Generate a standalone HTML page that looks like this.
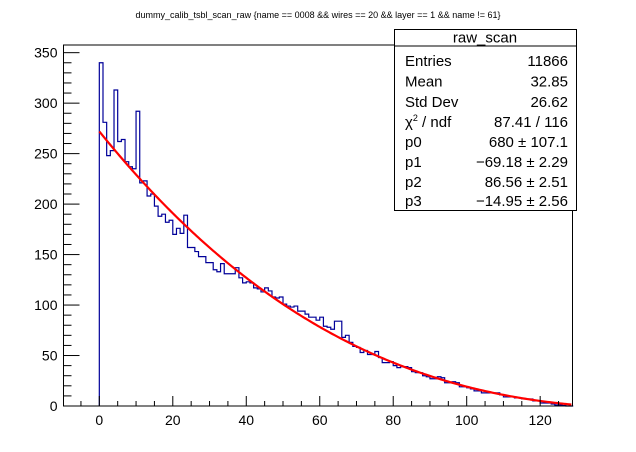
<!DOCTYPE html>
<html><head><meta charset="utf-8"><style>
body{margin:0;background:#fff;}
svg{display:block;font-family:"Liberation Sans",sans-serif;}
</style></head><body>
<svg id="c" width="636" height="452" viewBox="0 0 636 452">
<rect width="636" height="452" fill="#fff"/>
<text x="318" y="18" font-size="9" text-anchor="middle">dummy_calib_tsbl_scan_raw {name == 0008 &amp;&amp; wires == 20 &amp;&amp; layer == 1 &amp;&amp; name != 61}</text>
<g id="plot"></g>
<g id="axes"></g>
<g>
<rect x="394.5" y="29.5" width="182" height="181" fill="#fff" stroke="#000" stroke-width="1"/>
<line x1="394.5" y1="46" x2="576.5" y2="46" stroke="#000"/>
<text x="485" y="42.5" font-size="15" text-anchor="middle">raw_scan</text>
<g font-size="15">
<text x="405" y="66">Entries</text><text x="568" y="66" text-anchor="end">11866</text>
<text x="405" y="86.5">Mean</text><text x="568" y="86.5" text-anchor="end">32.85</text>
<text x="405" y="107">Std Dev</text><text x="568" y="107" text-anchor="end">26.62</text>
<text x="405" y="127">χ<tspan font-size="9" dy="-6">2</tspan><tspan dy="6"> / ndf</tspan></text><text x="568" y="127" text-anchor="end">87.41 / 116</text>
<text x="405" y="147">p0</text><text x="568" y="147" text-anchor="end">680 ± 107.1</text>
<text x="405" y="167">p1</text><text x="568" y="167" text-anchor="end">−69.18 ± 2.29</text>
<text x="405" y="187">p2</text><text x="568" y="187" text-anchor="end">86.56 ± 2.51</text>
<text x="405" y="206">p3</text><text x="568" y="206" text-anchor="end">−14.95 ± 2.56</text>
</g></g>
</svg>
<script>
const binValues=[340,281,248,253,313,262,264,242,237,235,292,221,223,208,210,198,188,190,182,184,170,176,171,189,157,157,153,148,148,142,142,135,133,141,131,131,131,137,127,122,123,122,117,116,113,117,114,108,107,108,101,99,98,99,94,94,91,88,88,85,88,79,78,76,84,84,68,70,63,59,58,53,55,51,51,54,48,43,43,44,40,38,39,39,38,34,33,33,30,29,27,27,29,28,23,23,24,23,19,19,18,17,15,15,13,13,13,13,13,11,9,9,9,8,8,7,7,7,5,5,3,3,3,2,1,1,0.5,0,0];
const fitKnots=[272,127,43,5];
const xTicks=[0,20,40,60,80,100,120];
const yTicks=[0,50,100,150,200,250,300,350];
const NS='http://www.w3.org/2000/svg';
const X0=63.5,X1=572.5,Y0=406,Y1=45;
const xmin=-9.75,xmax=128.8,ymin=0,ymax=357.6;
function sx(v){return X0+(v-xmin)/(xmax-xmin)*(X1-X0);}
function sy(v){return Y0-(v-ymin)/(ymax-ymin)*(Y0-Y1);}
function mk(t,a,p){const e=document.createElementNS(NS,t);for(const k in a)e.setAttribute(k,a[k]);p.appendChild(e);return e;}
const plot=document.getElementById('plot'),axes=document.getElementById('axes');
let d='M'+sx(0)+','+sy(0);
binValues.forEach((v,i)=>{d+=' L'+sx(i)+','+sy(v)+' L'+sx(i+1)+','+sy(v);});
d+=' L'+sx(binValues.length)+','+sy(0);
const h=mk('path',{d:d,fill:'none',stroke:'#000099','stroke-width':1.2},plot);


function fit(x){const t=x/40;const [a,b,c,e]=fitKnots;const d1=b-a,d2=c-2*b+a,d3=e-3*c+3*b-a;return a+d1*t+d2*t*(t-1)/2+d3*t*(t-1)*(t-2)/6;}
let fd='';for(let x=0;x<=128.5;x+=0.5){fd+=(x===0?'M':' L')+sx(x).toFixed(2)+','+sy(Math.max(0,fit(x))).toFixed(2);}
const f=mk('path',{d:fd,fill:'none',stroke:'#ff0000','stroke-width':2.2},plot);


const fr=mk('rect',{x:X0,y:Y1,width:X1-X0,height:Y0-Y1,fill:'none',stroke:'#000','stroke-width':1},axes);


for(let v=-5;v<=125;v+=5){const maj=v%20===0;mk('line',{x1:sx(v),x2:sx(v),y1:Y0,y2:Y0-(maj?10:5),stroke:'#000'},axes);}
xTicks.forEach(v=>{const t=mk('text',{x:sx(v),y:Y0+19,'font-size':14,'text-anchor':'middle'},axes);t.textContent=v;

});
for(let v=0;v<=350;v+=10){const maj=v%50===0;mk('line',{x1:X0,x2:X0+(maj?16:8),y1:sy(v),y2:sy(v),stroke:'#000'},axes);}
yTicks.forEach(v=>{const t=mk('text',{x:X0-6,y:sy(v)+5,'font-size':14,'text-anchor':'end'},axes);t.textContent=v;

});
</script>
</body></html>
